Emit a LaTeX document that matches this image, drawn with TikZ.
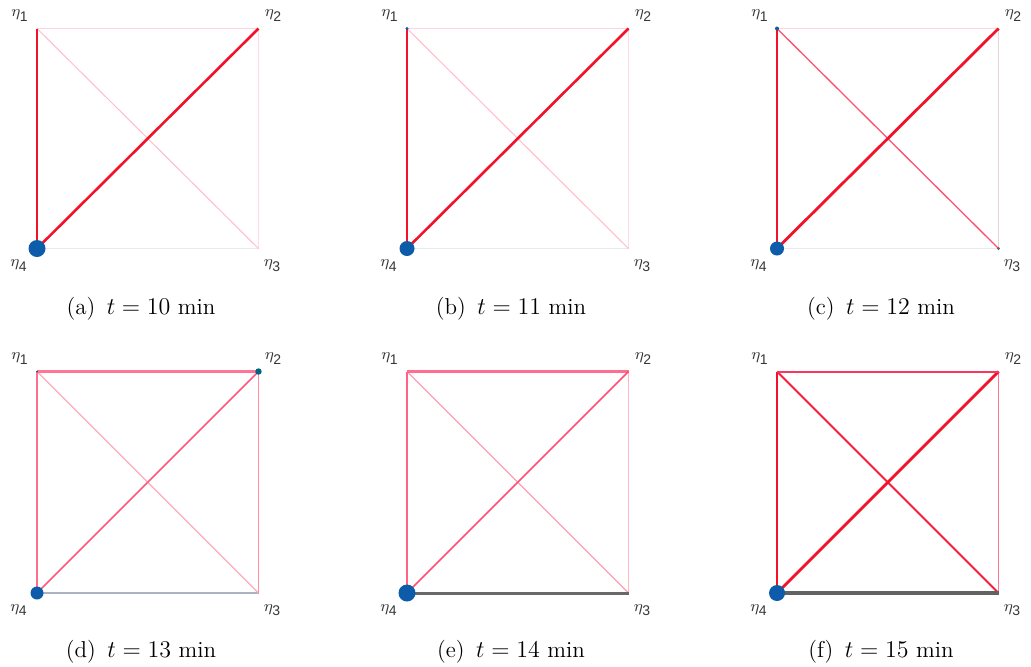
\documentclass[tikz,border=0pt]{standalone}
\usepackage{fontspec}
\usetikzlibrary{calc}
\newfontfamily\lblfont{Liberation Sans}
\definecolor{rd}{RGB}{242,18,42}
\definecolor{dotblue}{RGB}{12,92,170}
\definecolor{dotteal}{RGB}{0,100,130}
\definecolor{gry}{RGB}{105,105,105}
\definecolor{lblgray}{RGB}{55,55,55}
% panel-specific edge colours
\definecolor{faintgray}{RGB}{234,234,237}
\definecolor{faintpink}{RGB}{255,220,227}
\definecolor{palepink}{RGB}{255,212,220}
\definecolor{lightpink}{RGB}{255,188,202}
\definecolor{grayish}{RGB}{228,212,218}
\definecolor{midred}{RGB}{255,80,112}
\definecolor{dbottom}{RGB}{172,178,194}
\definecolor{dthirteen}{RGB}{255,172,190}
\definecolor{dtwothree}{RGB}{255,142,166}
\definecolor{dtop}{RGB}{255,118,148}
\definecolor{dleft}{RGB}{255,110,140}
\definecolor{ddiag}{RGB}{255,88,128}
\definecolor{etwothree}{RGB}{255,182,198}
\definecolor{ethirteen}{RGB}{255,160,180}
\definecolor{etop}{RGB}{255,110,145}
\definecolor{eleft}{RGB}{255,98,130}
\definecolor{ediag}{RGB}{255,78,115}
\definecolor{ftwothree}{RGB}{255,118,150}
\definecolor{fupper}{RGB}{252,55,95}
\definecolor{fthirteen}{RGB}{245,30,60}
\definecolor{fbottom}{RGB}{98,98,98}
\tikzset{
  vlabel/.style={font=\fontsize{8.5}{9}\selectfont, inner sep=0pt, text=lblgray},
  capt/.style={font=\fontsize{11.5}{13}\selectfont, inner sep=0pt},
  edge/.style={line cap=butt},
}
\newcommand{\etalbl}[1]{$\eta_{\textrm{\lblfont\scriptsize #1}}$}
\begin{document}
\begin{tikzpicture}[x=0.5pt,y=-0.5pt]
\useasboundingbox (0,0) rectangle (1031,666);
\fill[white] (0,0) rectangle (1031,666);

% ---------------- panel (a)
\coordinate (a1) at (37,28.5);
\coordinate (a2) at (258.5,28.5);
\coordinate (a3) at (258.5,248.5);
\coordinate (a4) at (37,248.5);
\draw[edge, faintgray, line width=0.5pt] (a4) -- (a3);
\draw[edge, faintpink, line width=0.5pt] (a2) -- (a3);
\draw[edge, palepink, line width=0.8pt] (a1) -- (a2);
\draw[edge, lightpink, line width=0.5pt] (a1) -- (a3);
\draw[edge, rd, line width=1.1pt] (a1) -- (a4);
\draw[edge, rd, line width=1.3pt] (a4) -- (a2);
\fill[dotblue] (a4) circle (8.5);
\node[vlabel] (la1) at ($(a1)+(-17,-13)$) {\etalbl{1}};
\node[vlabel] (la2) at ($(a2)+(15,-13)$) {\etalbl{2}};
\node[vlabel] (la3) at ($(a3)+(14,17)$) {\etalbl{3}};
\node[vlabel] (la4) at ($(a4)+(-18,17)$) {\etalbl{4}};
\node[capt] (ca) at (141,309) {(a)\enspace$t=10$ min};

% ---------------- panel (b)
\coordinate (b1) at (407,28.5);
\coordinate (b2) at (628.5,28.5);
\coordinate (b3) at (628.5,248.5);
\coordinate (b4) at (407,248.5);
\draw[edge, faintgray, line width=0.5pt] (b4) -- (b3);
\draw[edge, faintpink, line width=0.5pt] (b2) -- (b3);
\draw[edge, palepink, line width=0.8pt] (b1) -- (b2);
\draw[edge, lightpink, line width=0.5pt] (b1) -- (b3);
\draw[edge, rd, line width=1.1pt] (b1) -- (b4);
\draw[edge, rd, line width=1.3pt] (b4) -- (b2);
\fill[dotblue] (b1) circle (1.6);
\fill[dotblue] (b4) circle (7.5);
\node[vlabel] (lb1) at ($(b1)+(-17,-13)$) {\etalbl{1}};
\node[vlabel] (lb2) at ($(b2)+(15,-13)$) {\etalbl{2}};
\node[vlabel] (lb3) at ($(b3)+(14,17)$) {\etalbl{3}};
\node[vlabel] (lb4) at ($(b4)+(-18,17)$) {\etalbl{4}};
\node[capt] (cb) at (511,309) {(b)\enspace$t=11$ min};

% ---------------- panel (c)
\coordinate (c1) at (777,28.5);
\coordinate (c2) at (998.5,28.5);
\coordinate (c3) at (998.5,248.5);
\coordinate (c4) at (777,248.5);
\draw[edge, faintgray, line width=0.5pt] (c4) -- (c3);
\draw[edge, grayish, line width=0.45pt] (c2) -- (c3);
\draw[edge, palepink, line width=0.8pt] (c1) -- (c2);
\draw[edge, midred, line width=0.65pt] (c1) -- (c3);
\draw[edge, rd, line width=1.0pt] (c1) -- (c4);
\draw[edge, rd, line width=1.4pt] (c4) -- (c2);
\fill[dotblue] (c1) circle (2);
\fill[gry] (c3) circle (1.6);
\fill[dotblue] (c4) circle (7);
\node[vlabel] (lc1) at ($(c1)+(-17,-13)$) {\etalbl{1}};
\node[vlabel] (lc2) at ($(c2)+(15,-13)$) {\etalbl{2}};
\node[vlabel] (lc3) at ($(c3)+(14,17)$) {\etalbl{3}};
\node[vlabel] (lc4) at ($(c4)+(-18,17)$) {\etalbl{4}};
\node[capt] (cc) at (881,309) {(c)\enspace$t=12$ min};

% ---------------- panel (d)
\coordinate (d1) at (37,371.5);
\coordinate (d2) at (258.5,371.5);
\coordinate (d3) at (258.5,593);
\coordinate (d4) at (37,593);
\draw[edge, dbottom, line width=0.55pt] (d4) -- (d3);
\draw[edge, dthirteen, line width=0.55pt] (d1) -- (d3);
\draw[edge, dtwothree, line width=0.6pt] (d2) -- (d3);
\draw[edge, dtop, line width=1.1pt] (d1) -- (d2);
\draw[edge, dleft, line width=0.8pt] (d1) -- (d4);
\draw[edge, ddiag, line width=0.85pt] (d4) -- (d2);
\fill[dotteal] (d1) circle (1);
\fill[dotteal] (d2) circle (3.2);
\fill[dotblue] (d4) circle (6.5);
\node[vlabel] (ld1) at ($(d1)+(-17,-13)$) {\etalbl{1}};
\node[vlabel] (ld2) at ($(d2)+(15,-13)$) {\etalbl{2}};
\node[vlabel] (ld3) at ($(d3)+(14,17)$) {\etalbl{3}};
\node[vlabel] (ld4) at ($(d4)+(-18,17)$) {\etalbl{4}};
\node[capt] (cd) at (141,652) {(d)\enspace$t=13$ min};

% ---------------- panel (e)
\coordinate (e1) at (407,371.5);
\coordinate (e2) at (628.5,371.5);
\coordinate (e3) at (628.5,593);
\coordinate (e4) at (407,593);
\draw[edge, etwothree, line width=0.5pt] (e2) -- (e3);
\draw[edge, ethirteen, line width=0.6pt] (e1) -- (e3);
\draw[edge, etop, line width=1.1pt] (e1) -- (e2);
\draw[edge, eleft, line width=1.0pt] (e1) -- (e4);
\draw[edge, ediag, line width=0.85pt] (e4) -- (e2);
\draw[edge, gry, line width=1.5pt] (e4) -- (e3);
\fill[dotblue] (e4) circle (8.5);
\node[vlabel] (le1) at ($(e1)+(-17,-13)$) {\etalbl{1}};
\node[vlabel] (le2) at ($(e2)+(15,-13)$) {\etalbl{2}};
\node[vlabel] (le3) at ($(e3)+(14,17)$) {\etalbl{3}};
\node[vlabel] (le4) at ($(e4)+(-18,17)$) {\etalbl{4}};
\node[capt] (ce) at (511,652) {(e)\enspace$t=14$ min};

% ---------------- panel (f)
\coordinate (f1) at (777,371.5);
\coordinate (f2) at (998.5,371.5);
\coordinate (f3) at (998.5,593);
\coordinate (f4) at (777,593);
\draw[edge, ftwothree, line width=0.65pt] (f2) -- (f3);
\draw[edge, fthirteen, line width=0.9pt] (f1) -- (f3);
\draw[edge, rd, line width=1.25pt] (f1) -- (f4);
\draw[edge, rd, line width=1.4pt] (f4) -- (f2);
\draw[edge, fbottom, line width=1.8pt] (f4) -- (f3);
\draw[edge, draw=fupper, line width=1.0pt] (f1) -- (f2);
\fill[dotblue] (f4) circle (8);
\node[vlabel] (lf1) at ($(f1)+(-17,-13)$) {\etalbl{1}};
\node[vlabel] (lf2) at ($(f2)+(15,-13)$) {\etalbl{2}};
\node[vlabel] (lf3) at ($(f3)+(14,17)$) {\etalbl{3}};
\node[vlabel] (lf4) at ($(f4)+(-18,17)$) {\etalbl{4}};
\node[capt] (cf) at (881,652) {(f)\enspace$t=15$ min};
\end{tikzpicture}
\end{document}
